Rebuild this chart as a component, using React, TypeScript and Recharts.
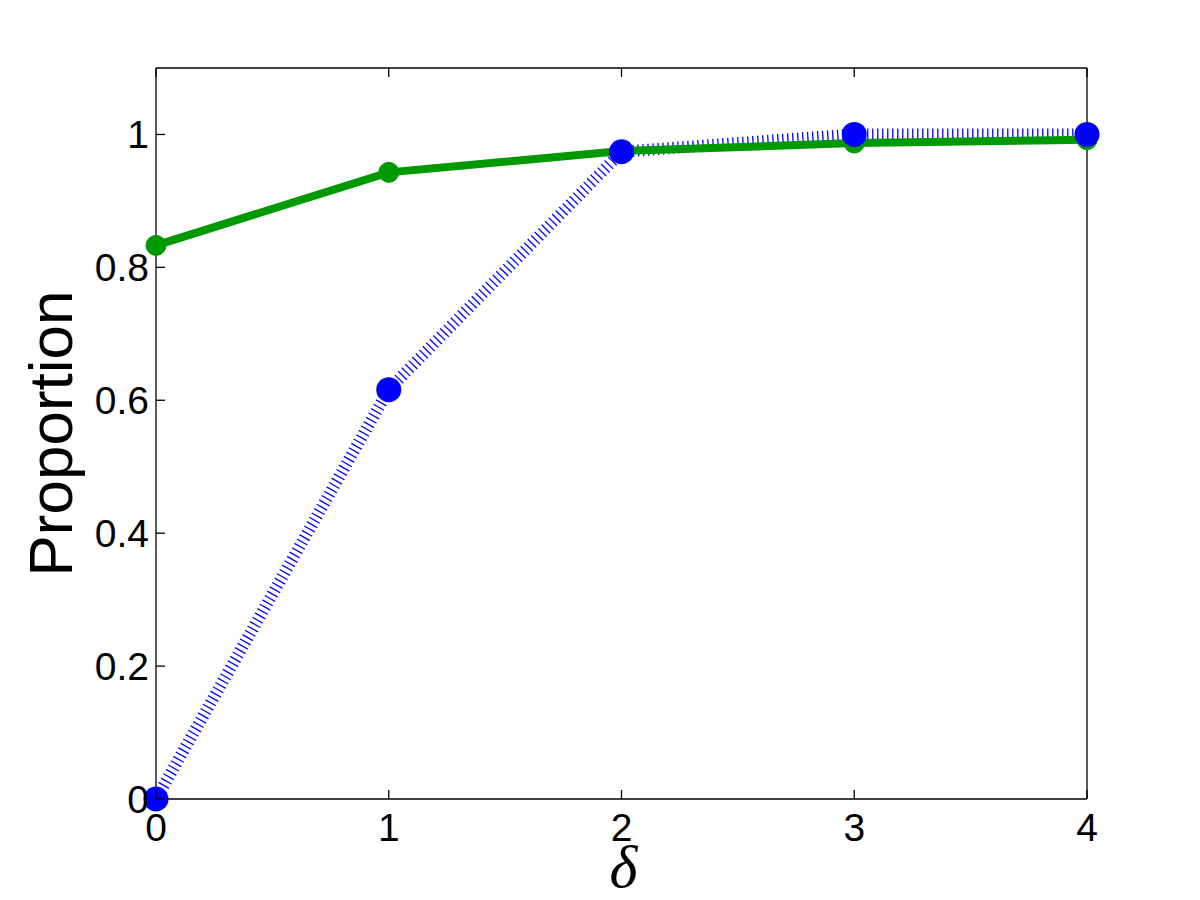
import React from 'react';
import { LineChart, Line, XAxis, YAxis, Label } from 'recharts';

const deltaValues = [0, 1, 2, 3, 4];
const greenValues = [0.833, 0.943, 0.975, 0.987, 0.992];
const blueValues = [0.0, 0.616, 0.974, 1.0, 1.0];
const yTicks = [0, 0.2, 0.4, 0.6, 0.8, 1];
const yTickLabels = ['0', '0.2', '0.4', '0.6', '0.8', '1'];
const xTickLabels = ['0', '1', '2', '3', '4'];

const data = deltaValues.map((d, i) => ({ delta: d, green: greenValues[i], blue: blueValues[i] }));

const W = 1192;
const H = 892;
const PLOT_LEFT = 148;
const PLOT_TOP = 60;
const PLOT_RIGHT = 1079;
const PLOT_BOTTOM = 791;
const TICK = 9;
const FONT = '"Liberation Sans", Arial, Helvetica, sans-serif';
const GREEN = '#009900';
const BLUE = '#0000FF';

const LeftTick = (props: any) => {
  const { y, payload } = props;
  const idx = yTicks.indexOf(payload.value);
  return (
    <g>
      <line x1={PLOT_LEFT} x2={PLOT_LEFT + TICK} y1={y} y2={y} stroke="#000" strokeWidth={1.3} />
      <text x={PLOT_LEFT - 7} y={y} textAnchor="end" dominantBaseline="central" fontSize={39} fontFamily={FONT} fill="#000">
        {idx >= 0 ? yTickLabels[idx] : String(payload.value)}
      </text>
    </g>
  );
};

const RightTick = (props: any) => {
  const { y } = props;
  return <line x1={PLOT_RIGHT - TICK} x2={PLOT_RIGHT} y1={y} y2={y} stroke="#000" strokeWidth={1.3} />;
};

const BottomTick = (props: any) => {
  const { x, payload } = props;
  const idx = deltaValues.indexOf(payload.value);
  return (
    <g>
      <line x1={x} x2={x} y1={PLOT_BOTTOM} y2={PLOT_BOTTOM - TICK} stroke="#000" strokeWidth={1.3} />
      <text x={x} y={PLOT_BOTTOM + 28} textAnchor="middle" dominantBaseline="central" fontSize={39} fontFamily={FONT} fill="#000">
        {idx >= 0 ? xTickLabels[idx] : String(payload.value)}
      </text>
    </g>
  );
};

const TopTick = (props: any) => {
  const { x } = props;
  return <line x1={x} x2={x} y1={PLOT_TOP} y2={PLOT_TOP + TICK} stroke="#000" strokeWidth={1.3} />;
};

const YLabel = () => (
  <text
    x={64}
    y={(PLOT_TOP + PLOT_BOTTOM) / 2}
    transform={`rotate(-90 64 ${(PLOT_TOP + PLOT_BOTTOM) / 2})`}
    textAnchor="middle"
    fontSize={62}
    fontFamily={FONT}
    fill="#000"
  >
    Proportion
  </text>
);

const XLabel = () => (
  <text
    x={(PLOT_LEFT + PLOT_RIGHT) / 2 + 2}
    y={879}
    textAnchor="middle"
    fontSize={60}
    fontStyle="italic"
    fontFamily='"Liberation Serif", "DejaVu Serif", serif'
    fill="#000"
  >
    δ
  </text>
);

const axisLine = { stroke: '#000', strokeWidth: 1.3 };

export default function App() {
  return (
    <div style={{ width: W, height: H, background: '#fff' }}>
      <LineChart width={W} height={H} data={data} margin={{ top: PLOT_TOP - 1, right: W - PLOT_RIGHT - 1, bottom: 0, left: 0 }}>
        <XAxis
          xAxisId="b"
          dataKey="delta"
          type="number"
          domain={[0, 4]}
          ticks={deltaValues}
          interval={0}
          height={H - PLOT_BOTTOM}
          axisLine={axisLine}
          tickLine={false}
          tick={<BottomTick />}
        >
          <Label content={<XLabel />} />
        </XAxis>
        <XAxis
          xAxisId="t"
          orientation="top"
          dataKey="delta"
          type="number"
          domain={[0, 4]}
          ticks={deltaValues}
          interval={0}
          height={1}
          axisLine={axisLine}
          tickLine={false}
          tick={<TopTick />}
        />
        <YAxis
          yAxisId="l"
          type="number"
          domain={[0, 1.1]}
          ticks={yTicks}
          interval={0}
          width={PLOT_LEFT}
          axisLine={axisLine}
          tickLine={false}
          tick={<LeftTick />}
        >
          <Label content={<YLabel />} />
        </YAxis>
        <YAxis
          yAxisId="r"
          orientation="right"
          type="number"
          domain={[0, 1.1]}
          ticks={yTicks}
          interval={0}
          width={1}
          axisLine={axisLine}
          tickLine={false}
          tick={<RightTick />}
        />
        <Line
          xAxisId="b"
          yAxisId="l"
          type="linear"
          dataKey="blue"
          stroke={BLUE}
          strokeWidth={12}
          strokeDasharray="1.3 3.7"
          strokeLinecap="butt"
          dot={false}
          activeDot={false}
          isAnimationActive={false}
        />
        <Line
          xAxisId="b"
          yAxisId="l"
          type="linear"
          dataKey="green"
          stroke={GREEN}
          strokeWidth={8}
          dot={{ r: 10, fill: GREEN, stroke: GREEN, strokeWidth: 1 }}
          activeDot={false}
          isAnimationActive={false}
        />
        <Line
          xAxisId="b"
          yAxisId="l"
          type="linear"
          dataKey="blue"
          stroke="none"
          strokeWidth={0}
          dot={{ r: 12.5, fill: BLUE, stroke: BLUE, strokeWidth: 0 }}
          activeDot={false}
          isAnimationActive={false}
        />
      </LineChart>
    </div>
  );
}
